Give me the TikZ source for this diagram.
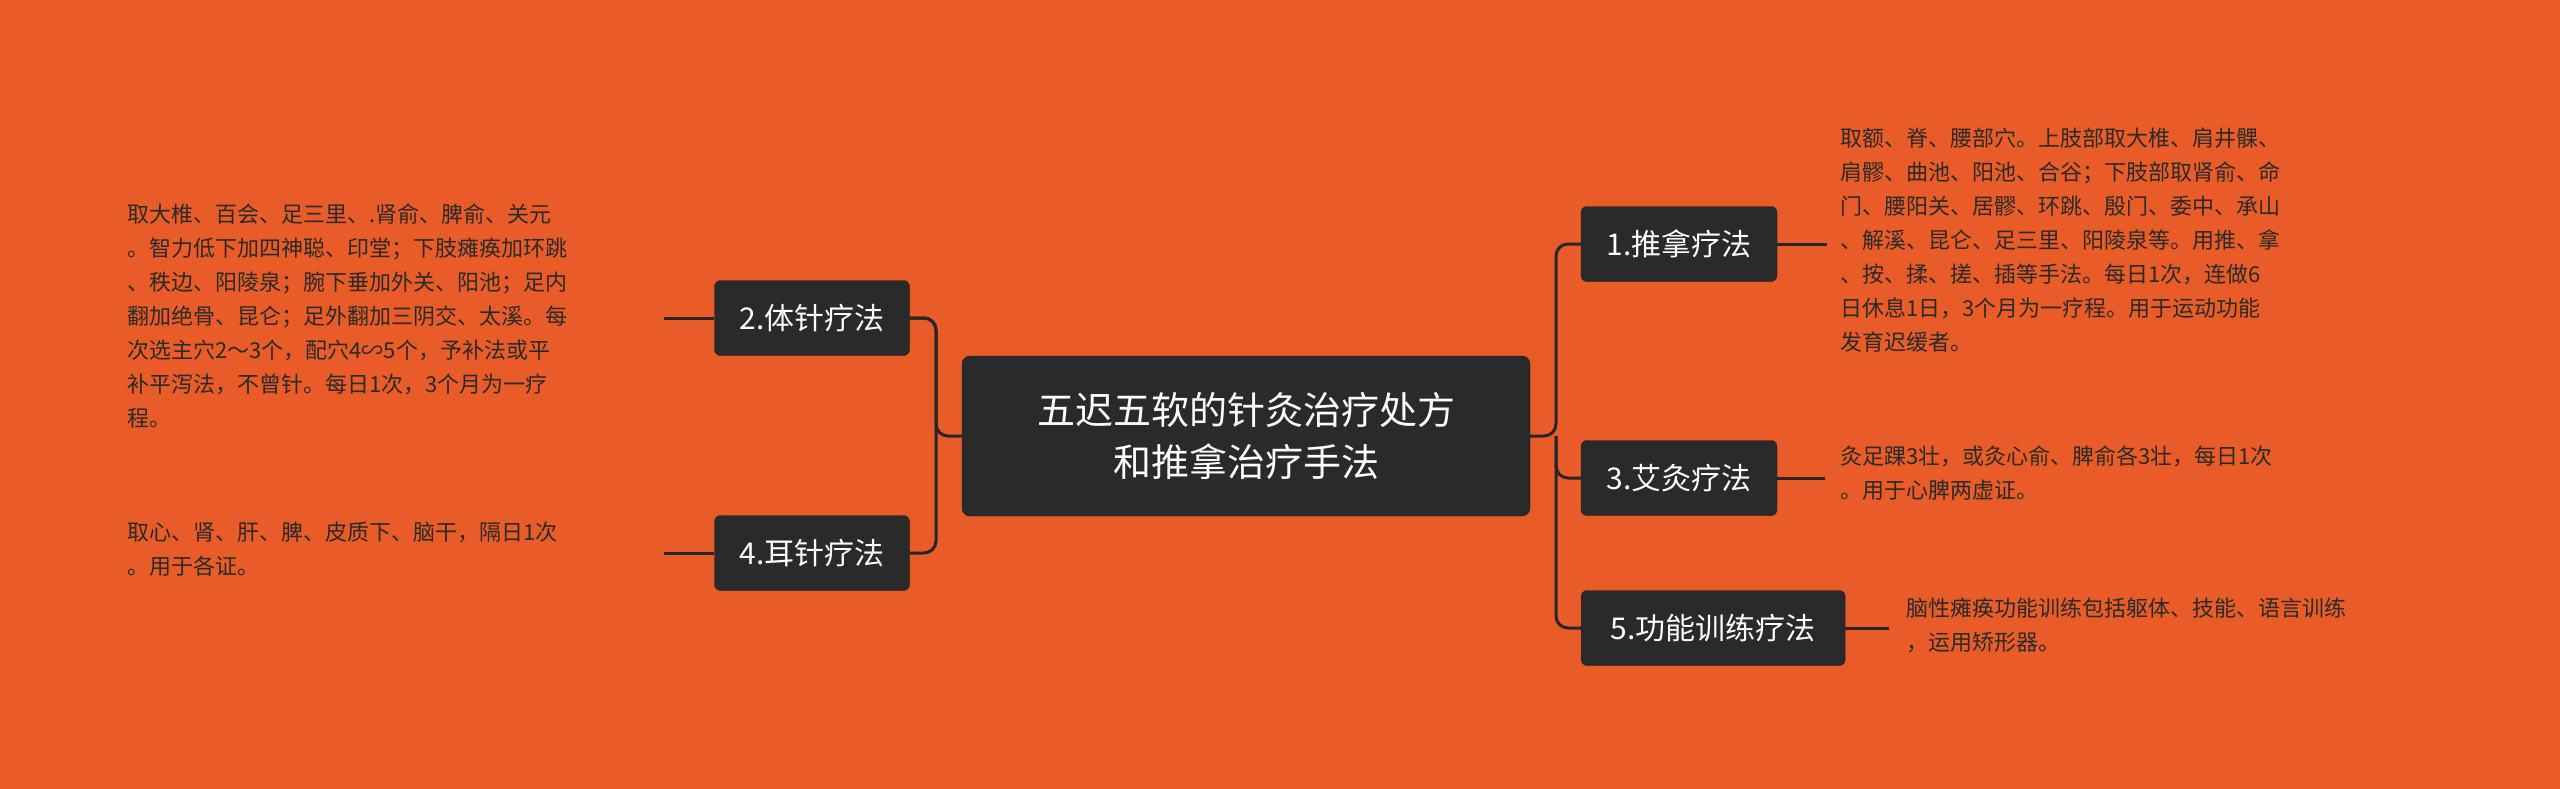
\documentclass[tikz,border=0pt]{standalone}
\usepackage{fontspec}
\newfontfamily\cjk{Noto Sans CJK SC}
\definecolor{bg}{HTML}{E95C27}
\definecolor{box}{HTML}{2A2A2A}
\definecolor{ln}{HTML}{262626}
\begin{document}
\begin{tikzpicture}[x=1pt,y=-1pt,
  topic/.style={draw=box!70!black,fill=box,rounded corners=6pt,text=white,font=\cjk\fontsize{30}{36}\selectfont,inner sep=0pt,minimum height=75pt},
  center/.style={draw=box!70!black,fill=box,rounded corners=8pt,text=white,font=\cjk\fontsize{38}{52}\selectfont,align=center,minimum width=568pt,minimum height=160pt},
  desc/.style={anchor=north west,align=left,text=box,font=\cjk\fontsize{22}{34}\selectfont,inner sep=0pt},
  conn/.style={draw=ln,line width=3pt,rounded corners=12pt}]
\fill[bg] (0,0) rectangle (2560,789);
\useasboundingbox (0,0) rectangle (2560,789);
\node[center] (c) at (1246,436) {五迟五软的针灸治疗处方\\和推拿治疗手法};
\node[topic,minimum width=195pt] (t2) at (812,318) {2.体针疗法};
\node[topic,minimum width=195pt] (t4) at (812,553) {4.耳针疗法};
\node[topic,minimum width=196pt] (t1) at (1679,244) {1.推拿疗法};
\node[topic,minimum width=196pt] (t3) at (1679,478) {3.艾灸疗法};
\node[topic,minimum width=264pt,anchor=west] (t5) at (1581,628) {5.功能训练疗法};
\node[desc] (d2) at (127,204) {取大椎、百会、足三里、.肾俞、脾俞、关元\\。智力低下加四神聪、印堂；下肢瘫痪加环跳\\、秩边、阳陵泉；腕下垂加外关、阳池；足内\\翻加绝骨、昆仑；足外翻加三阴交、太溪。每\\次选主穴2～3个，配穴4∽5个，予补法或平\\补平泻法，不曾针。每日1次，3个月为一疗\\程。};
\node[desc] (d4) at (127,522) {取心、肾、肝、脾、皮质下、脑干，隔日1次\\。用于各证。};
\node[desc] (d1) at (1840,128) {取额、脊、腰部穴。上肢部取大椎、肩井髁、\\肩髎、曲池、阳池、合谷；下肢部取肾俞、命\\门、腰阳关、居髎、环跳、殷门、委中、承山\\、解溪、昆仑、足三里、阳陵泉等。用推、拿\\、按、揉、搓、插等手法。每日1次，连做6\\日休息1日，3个月为一疗程。用于运动功能\\发育迟缓者。};
\node[desc] (d3) at (1840,446) {灸足踝3壮，或灸心俞、脾俞各3壮，每日1次\\。用于心脾两虚证。};
\node[desc] (d5) at (1906,598) {脑性瘫痪功能训练包括躯体、技能、语言训练\\，运用矫形器。};
\coordinate (rj) at (1556,436);
\coordinate (lj) at (936,436);
\draw[conn] (c.east) -- (rj) |- (t1.west);
\draw[conn] (rj) |- (t3.west);
\draw[conn] (rj) |- (t5.west);
\draw[conn] (c.west) -- (lj) |- (t2.west -| t2.east);
\draw[conn] (lj) |- (t2.east);
\draw[conn] (lj) |- (t4.east);
\draw[conn] (t1.east) -- ++(50,0) coordinate (e1);
\draw[conn] (t3.east) -- ++(48,0);
\draw[conn] (t5.east) -- ++(44,0);
\draw[conn] (t2.west) -- ++(-50,0);
\draw[conn] (t4.west) -- ++(-50,0);
\end{tikzpicture}
\end{document}
